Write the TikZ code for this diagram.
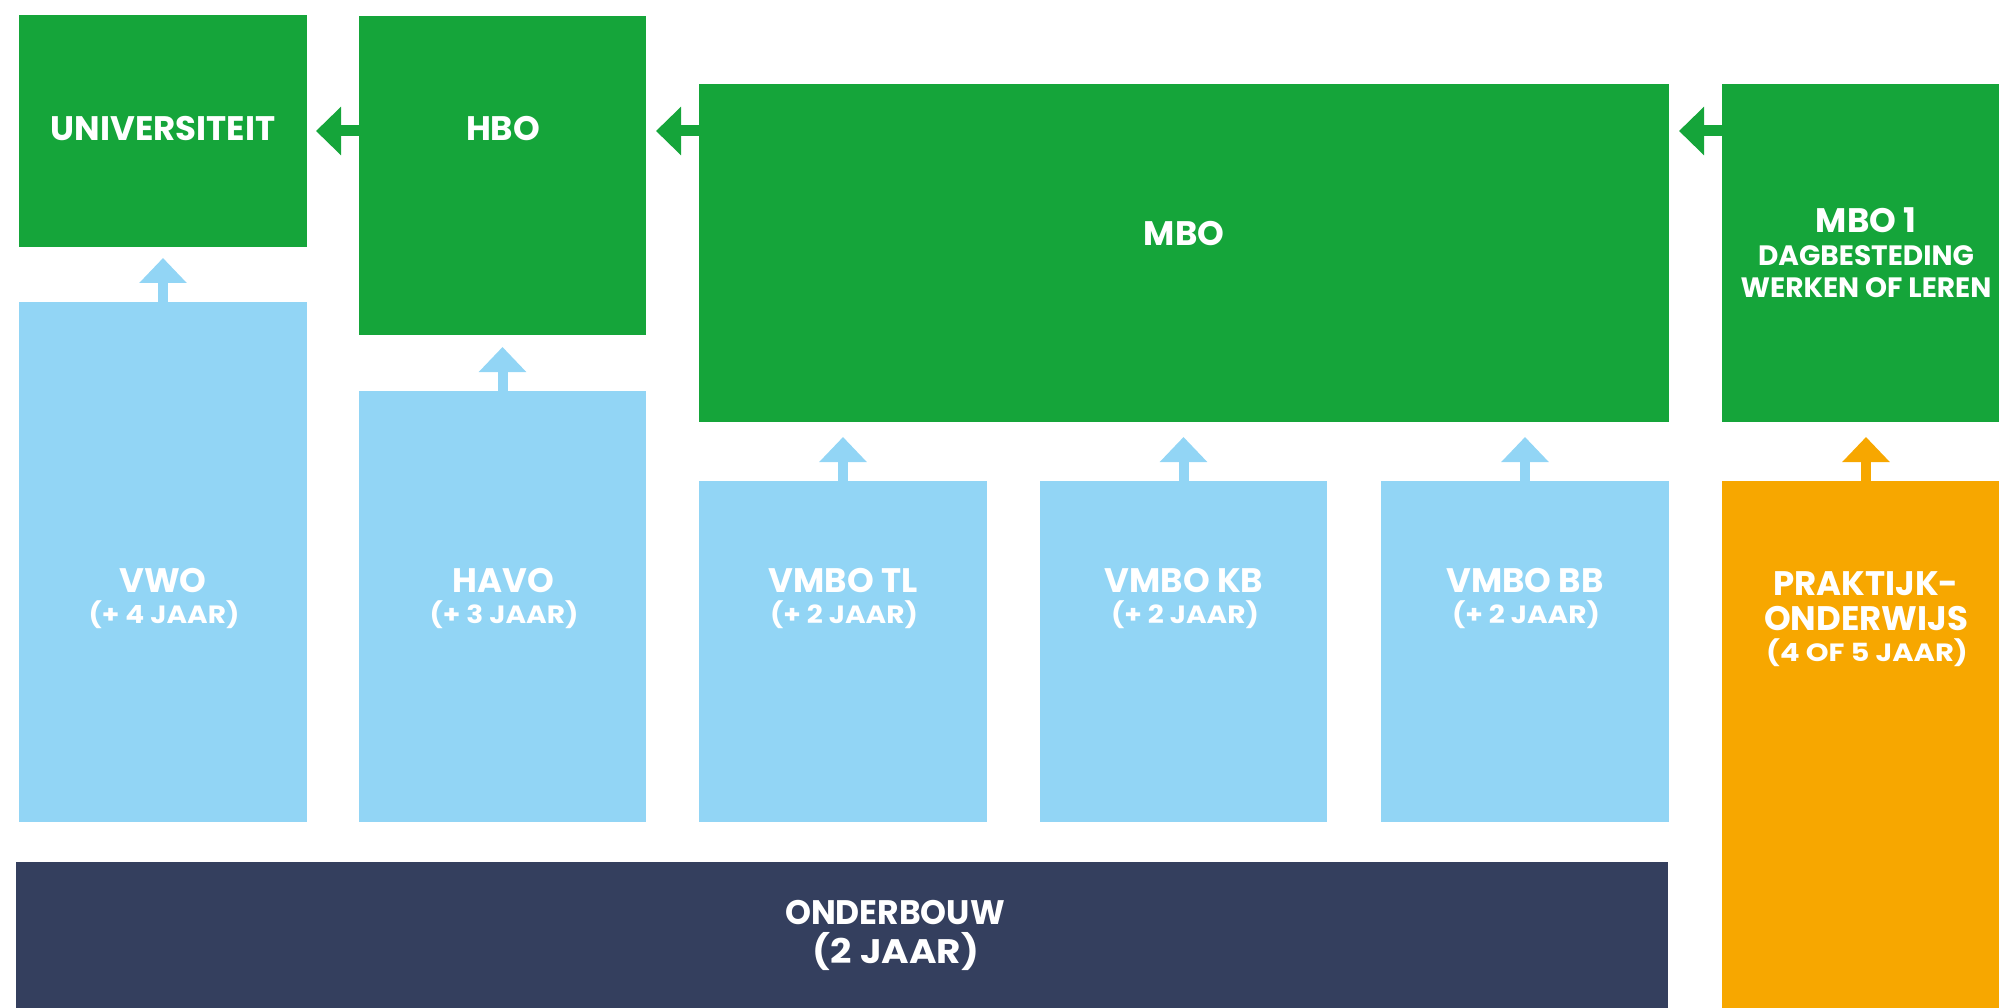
\documentclass[tikz,border=0pt]{standalone}
\usepackage{fontspec}
\newfontfamily\lblfont{Poppins}
\usetikzlibrary{arrows.meta,calc}
\definecolor{grn}{RGB}{21,165,58}
\definecolor{lblue}{RGB}{146,213,245}
\definecolor{navy}{RGB}{52,63,94}
\definecolor{orng}{RGB}{247,167,0}
\begin{document}
\begin{tikzpicture}[x=1pt,y=-1pt,
  box/.style={draw=none, inner sep=0pt, outer sep=0pt, anchor=north west},
  lbl/.style={text=white, font=\lblfont\bfseries\fontsize{34pt}{34pt}\selectfont, anchor=base, inner sep=0pt},
  sublbl/.style={text=white, font=\lblfont\bfseries\fontsize{25pt}{25pt}\selectfont\addfontfeature{FakeStretch=1.12}, anchor=base, inner sep=0pt},
  widesub/.style={text=white, font=\lblfont\bfseries\fontsize{25pt}{25pt}\selectfont\addfontfeature{FakeStretch=1.16}, anchor=base, inner sep=0pt},
  biglbl/.style={text=white, font=\lblfont\bfseries\fontsize{34pt}{34pt}\selectfont\addfontfeature{FakeStretch=0.97}, anchor=base, inner sep=0pt},
  bigsub/.style={text=white, font=\lblfont\bfseries\fontsize{34pt}{34pt}\selectfont\addfontfeature{FakeStretch=1.1}, anchor=base, inner sep=0pt},
  midlbl/.style={text=white, font=\lblfont\bfseries\fontsize{28pt}{28pt}\selectfont, anchor=base, inner sep=0pt},
  uparrow/.style={line width=10pt, -{Triangle[length=25pt,width=46pt]}},
  leftarrow/.style={line width=11pt, -{Triangle[length=25pt,width=47pt]}, draw=grn}
]
\useasboundingbox (0,0) rectangle (1999,1008);
\clip (0,0) rectangle (1999,1008);

% boxes
\node[box, fill=grn, minimum width=288pt, minimum height=232pt] (univ) at (19,15) {};
\node[box, fill=grn, minimum width=287pt, minimum height=319pt] (hbo) at (359,16) {};
\node[box, fill=grn, minimum width=970pt, minimum height=338pt] (mbo) at (699,84) {};
\node[box, fill=grn, minimum width=288pt, minimum height=338pt] (mboone) at (1722,84) {};
\node[box, fill=lblue, minimum width=288pt, minimum height=520pt] (vwo) at (19,302) {};
\node[box, fill=lblue, minimum width=287pt, minimum height=431pt] (havo) at (359,391) {};
\node[box, fill=lblue, minimum width=288pt, minimum height=341pt] (tl) at (699,481) {};
\node[box, fill=lblue, minimum width=287pt, minimum height=341pt] (kb) at (1040,481) {};
\node[box, fill=lblue, minimum width=288pt, minimum height=341pt] (bb) at (1381,481) {};
\node[box, fill=orng, minimum width=288pt, minimum height=540pt] (prakt) at (1722,481) {};
\node[box, fill=navy, minimum width=1652pt, minimum height=160pt] (onder) at (16,862) {};

% labels
\node[lbl] (tuniv) at (163,141) {UNIVERSITEIT};
\node[lbl] (thbo) at (503,141) {HBO};
\node[lbl] (tmbo) at (1184,246) {MBO};
\node[lbl] (tmboone) at (1866,233) {MBO 1};
\node[midlbl] (tdag) at (1866,265.5) {DAGBESTEDING};
\node[midlbl] (twerk) at (1866,298) {WERKEN OF LEREN};

\node[lbl] (tvwo) at (163,592) {VWO};
\node[sublbl] (svwo) at (164,623) {(+ 4 JAAR)};
\node[lbl] (thavo) at (503,592) {HAVO};
\node[sublbl] (shavo) at (504,623) {(+ 3 JAAR)};
\node[lbl] (ttl) at (843,592) {VMBO TL};
\node[sublbl] (stl) at (844,623) {(+ 2 JAAR)};
\node[lbl] (tkb) at (1184,592) {VMBO KB};
\node[sublbl] (skb) at (1185,623) {(+ 2 JAAR)};
\node[lbl] (tbb) at (1525,592) {VMBO BB};
\node[sublbl] (sbb) at (1526,623) {(+ 2 JAAR)};

\node[lbl] (tprakt) at (1866,595) {PRAKTIJK-};
\node[lbl] (tonderw) at (1866,630) {ONDERWIJS};
\node[widesub] (sprakt) at (1867,661) {(4 OF 5 JAAR)};

\node[biglbl] (tonder) at (895,924) {ONDERBOUW};
\node[bigsub] (sonder) at (896,963) {(2 JAAR)};

% upward arrows
\draw[uparrow, draw=lblue] (vwo.north) -- ++(0,-44);
\draw[uparrow, draw=lblue] (havo.north) -- ++(0,-44);
\draw[uparrow, draw=lblue] (tl.north) -- ++(0,-44);
\draw[uparrow, draw=lblue] (kb.north) -- ++(0,-44);
\draw[uparrow, draw=lblue] (bb.north) -- ++(0,-44);
\draw[uparrow, draw=orng] (prakt.north) -- ++(0,-44);

% leftward arrows
\draw[leftarrow] (hbo.west |- univ.east) -- ($(univ.east)+(9,0)$);
\draw[leftarrow] (mbo.west |- univ.east) -- ($(hbo.east |- univ.east)+(10,0)$);
\draw[leftarrow] (mboone.west |- univ.east) -- ($(mbo.east |- univ.east)+(10,0)$);
\end{tikzpicture}
\end{document}
